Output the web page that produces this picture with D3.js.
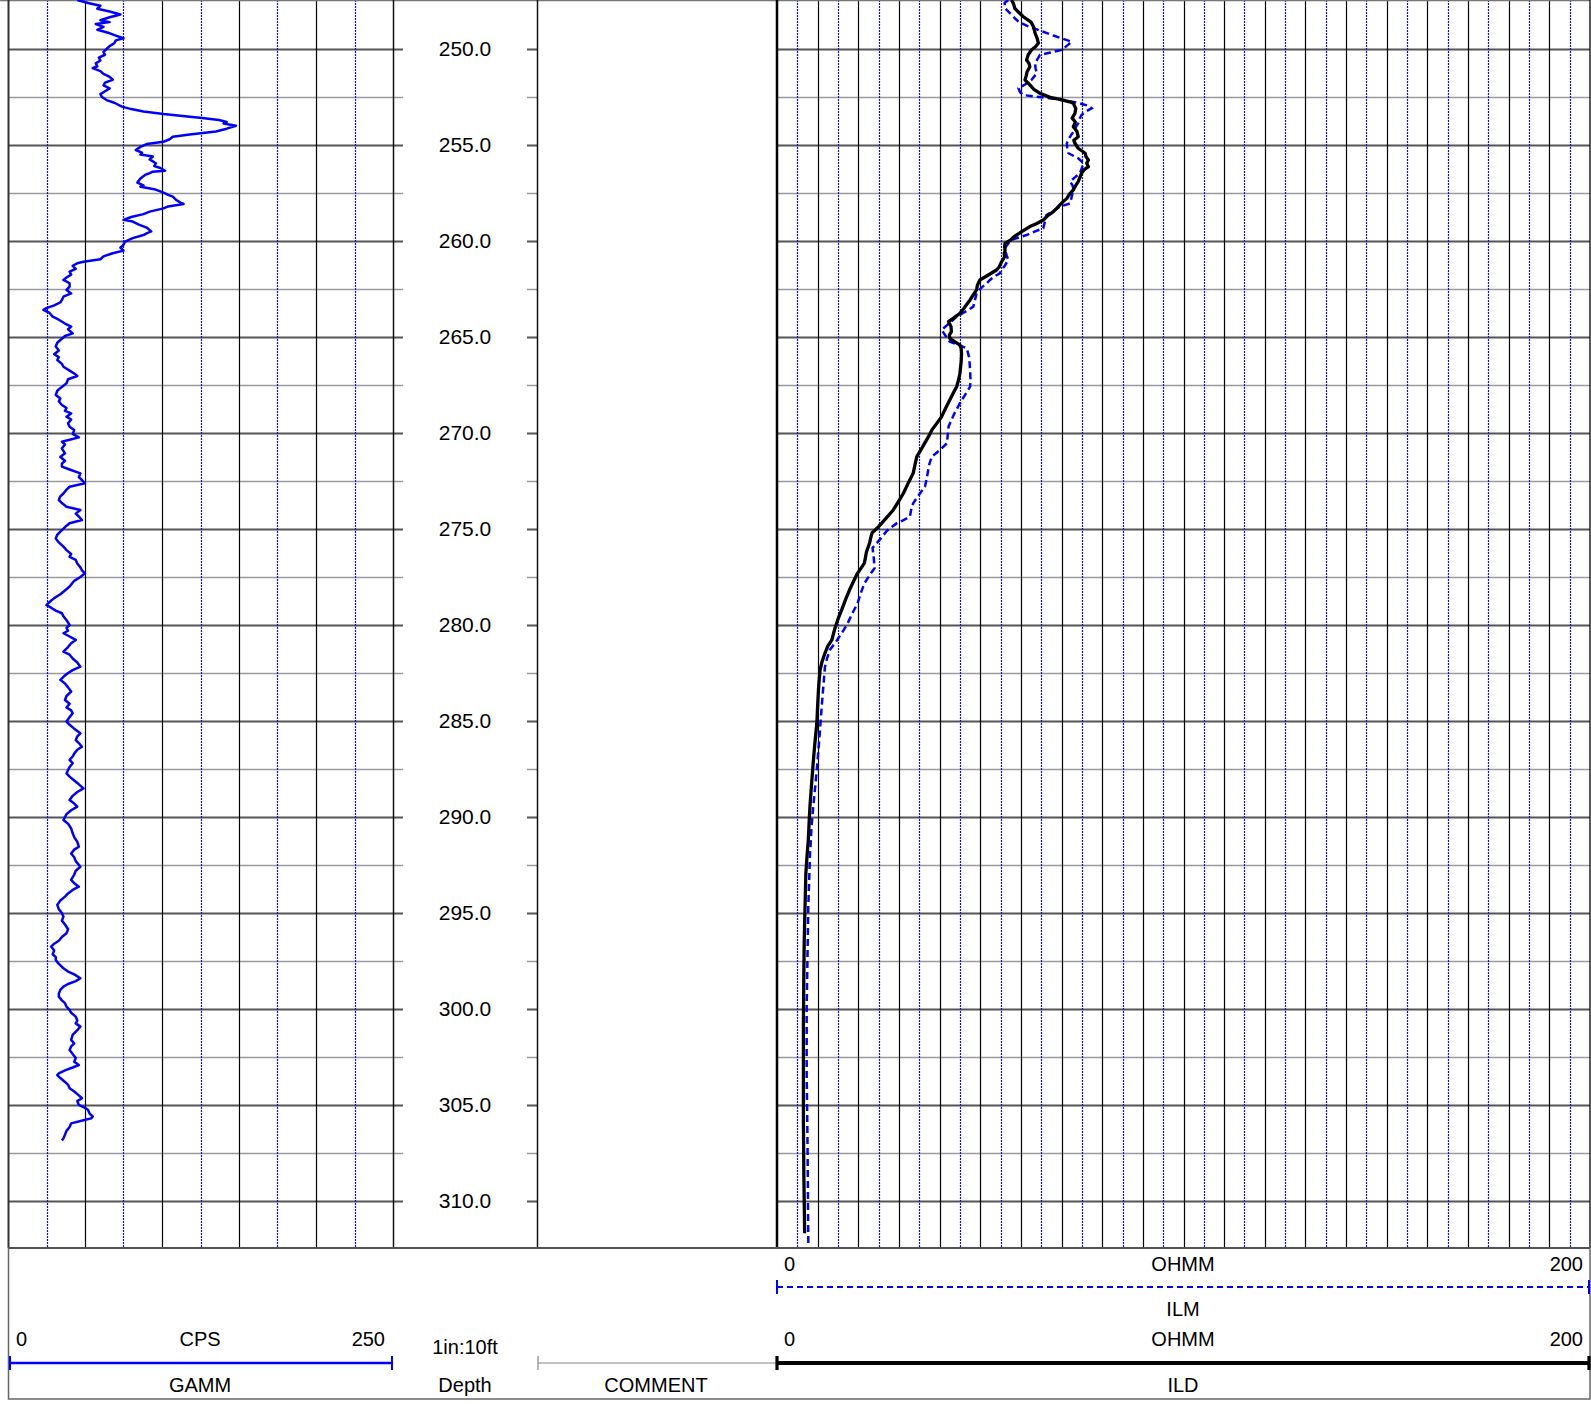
<!DOCTYPE html>
<meta charset="utf-8">
<script src="https://d3js.org/d3.v7.min.js"></script>
<style type="text/css">
body { margin: 0; background: #fff; }
svg { display: block; font-family: "Liberation Sans", Arial, sans-serif; }
.lbl { font-size: 20px; fill: #000; }
.depthlbl { font-size: 21px; fill: #000; }
.gam { fill: none; stroke: #0000ff; stroke-width: 2.5; stroke-linejoin: round; }
.ilm { fill: none; stroke: #0000ff; stroke-width: 2.5; stroke-dasharray: 7,4; }
.ild { fill: none; stroke: #000; stroke-width: 3.3; stroke-linejoin: round; }
</style>
<body>
</body>
<script>
// depth window shown on the log (ft)
var depthTop = 247.448, depthBottom = 312.45;
var depthLabels = [250, 255, 260, 265, 270, 275, 280, 285, 290, 295, 300, 305, 310];
var gamRange = [0, 250];
var resRange = [0, 200];

// GAMM, CPS  [depth, value]
var gammData = [
[247.45,45],[247.6,52],[247.75,60],[247.9,58],[248.05,66],[248.2,73],[248.35,66],[248.5,60],[248.6,66],[248.7,57],
[248.85,62],[249.0,58],[249.15,65],[249.3,70],[249.44,75],[249.55,70],[249.7,69],[249.85,66],[250.0,64],[250.15,62],
[250.3,63],[250.45,59],[250.6,60],[250.75,57],[250.9,58],[251.0,55],[251.15,60],[251.3,62],[251.45,66],[251.6,68],
[251.75,63],[251.9,62],[252.05,66],[252.2,63],[252.35,60],[252.5,61],[252.66,64],[252.8,69],[253.0,74],[253.13,80],
[253.26,88],[253.39,101],[253.5,115],[253.6,126],[253.7,137],[253.8,142],[253.88,140],[254.0,148],[254.15,142],[254.3,135],
[254.45,118],[254.57,107],[254.7,105],[254.83,101],[254.95,90],[255.1,86],[255.26,83],[255.4,87],[255.5,86],[255.6,94],
[255.75,92],[255.95,96],[256.1,95],[256.2,99],[256.34,102],[256.39,94],[256.5,91],[256.56,89],[256.75,86],[256.96,84],
[257.1,88],[257.17,86],[257.3,95],[257.48,101],[257.6,104],[257.69,107],[257.85,109],[258.0,112],[258.07,114],[258.2,104],
[258.3,101],[258.47,92],[258.6,88],[258.75,80],[258.9,75],[258.99,81],[259.15,85],[259.3,90],[259.5,93],[259.6,90],
[259.69,88],[259.85,81],[260.03,76],[260.2,75],[260.35,73],[260.5,75],[260.64,68],[260.8,62],[260.95,60],[261.08,49],
[261.16,45],[261.3,42],[261.45,44],[261.6,40],[261.75,41],[261.9,38],[262.03,36],[262.2,40],[262.38,40],[262.55,38],
[262.73,41],[262.9,36],[263.07,35],[263.2,34],[263.35,30],[263.5,25],[263.59,23],[263.75,27],[263.94,29],[264.1,33],
[264.3,37],[264.46,41],[264.6,39],[264.81,42],[264.95,37],[265.16,34],[265.3,32],[265.5,31],[265.7,33],[265.9,30],
[266.05,33],[266.2,32],[266.4,35],[266.55,36],[266.75,40],[266.9,43],[267.03,45],[267.2,39],[267.41,38],[267.6,35],
[267.8,32],[268.02,31],[268.2,34],[268.35,33],[268.54,35],[268.7,38],[268.85,37],[268.98,41],[269.15,38],[269.3,41],
[269.5,39],[269.67,40],[269.85,43],[270.05,42],[270.23,46],[270.35,40],[270.45,35],[270.6,37],[270.8,35],[271.06,37],
[271.25,34],[271.45,37],[271.6,35],[271.75,35],[271.9,40],[272.1,47],[272.3,46],[272.45,48],[272.62,50],[272.8,40],
[272.95,38],[273.15,36],[273.3,34],[273.49,33],[273.65,35],[273.84,38],[274.01,47],[274.2,44],[274.35,46],[274.53,48],
[274.7,40],[274.9,37],[275.14,34],[275.3,32],[275.49,31],[275.7,33],[275.92,36],[276.1,38],[276.3,41],[276.45,40],
[276.61,44],[276.8,45],[277.0,47],[277.15,48],[277.31,50],[277.5,47],[277.7,43],[278.0,40],[278.2,37],[278.4,34],
[278.6,30],[278.8,27],[278.96,25],[279.1,28],[279.25,31],[279.39,35],[279.55,36],[279.75,38],[280.0,40],[280.15,38],
[280.3,39],[280.43,36],[280.6,40],[280.78,44],[280.95,41],[281.15,39],[281.39,36],[281.55,40],[281.75,42],[281.95,45],
[282.17,47],[282.35,42],[282.5,39],[282.7,36],[282.86,34],[283.05,37],[283.25,39],[283.47,41],[283.7,38],[283.91,37],
[284.1,40],[284.3,38],[284.45,41],[284.6,42],[284.8,40],[285.03,38],[285.2,40],[285.4,43],[285.64,47],[285.8,45],
[286.0,44],[286.15,46],[286.34,48],[286.5,45],[286.7,43],[286.85,42],[287.03,40],[287.2,42],[287.4,40],[287.55,39],
[287.73,38],[287.9,40],[288.1,43],[288.3,46],[288.51,49],[288.7,45],[288.9,42],[289.12,40],[289.3,43],[289.46,45],
[289.65,41],[289.85,38],[290.0,37],[290.16,36],[290.35,39],[290.6,41],[290.85,42],[291.05,43],[291.3,45],[291.55,46],
[291.7,43],[291.9,41],[292.1,43],[292.3,44],[292.59,47],[292.8,44],[293.0,43],[293.28,41],[293.45,43],[293.63,46],
[293.8,42],[293.98,39],[294.15,37],[294.35,34],[294.58,32],[294.8,33],[295.0,35],[295.19,36],[295.4,35],[295.6,37],
[295.85,39],[296.06,38],[296.25,35],[296.45,33],[296.6,30],[296.75,28],[296.95,30],[297.15,29],[297.3,31],[297.45,31],
[297.65,33],[297.88,36],[298.05,39],[298.2,43],[298.4,47],[298.55,44],[298.7,39],[298.84,36],[299.0,34],[299.2,33],
[299.36,33],[299.55,35],[299.7,37],[299.88,38],[300.05,40],[300.2,41],[300.4,44],[300.6,45],[300.75,44],[300.92,47],
[301.1,45],[301.35,42],[301.61,41],[301.8,43],[301.95,41],[302.14,40],[302.35,42],[302.55,44],[302.75,43],[302.92,46],
[303.05,42],[303.2,37],[303.35,33],[303.44,32],[303.6,34],[303.8,37],[303.95,39],[304.13,40],[304.3,43],[304.5,46],
[304.65,48],[304.8,45],[305.0,46],[305.15,50],[305.26,52],[305.45,53],[305.6,55],[305.7,54],[305.8,49],[305.96,41],
[306.15,40],[306.35,38],[306.55,37],[306.74,36],[306.85,35]
];

// ILD, OHMM  [depth, value]
var ildData = [
[247.45,57.7],[247.65,58.2],[247.88,58.5],[248.1,59.5],[248.32,60.6],[248.6,62.5],[248.84,63.1],[249.0,63.3],[249.18,63.5],[249.45,64.0],
[249.7,64.3],[249.9,63.5],[250.05,62.6],[250.3,61.8],[250.57,61.4],[250.75,62.0],[250.92,62.2],[251.2,61.5],[251.4,61.3],[251.61,61.0],
[251.87,62.2],[252.1,63.2],[252.31,64.7],[252.52,67.2],[252.62,69.6],[252.75,72.0],[252.83,72.9],[253.1,73.5],[253.35,73.3],[253.6,72.6],
[253.8,73.4],[254.05,72.9],[254.3,73.8],[254.57,74.1],[254.75,73.0],[254.91,73.3],[255.17,74.1],[255.43,75.8],[255.6,76.0],[255.78,76.6],
[255.95,76.2],[256.13,76.6],[256.3,75.5],[256.48,74.9],[256.7,74.5],[256.91,74.1],[257.1,73.5],[257.34,72.9],[257.55,72.0],[257.78,71.3],
[257.95,70.4],[258.12,69.6],[258.3,68.8],[258.47,68.0],[258.7,66.5],[258.91,65.5],[259.1,63.8],[259.25,62.2],[259.51,60.2],[259.81,58.1],
[259.95,57.5],[260.12,56.1],[260.3,56.0],[260.5,56.1],[260.64,55.9],[260.82,56.0],[261.1,55.2],[261.34,54.7],[261.51,54.0],[261.77,52.0],
[262.03,49.9],[262.3,49.3],[262.55,49.1],[262.8,48.3],[263.07,47.5],[263.3,46.7],[263.5,46.0],[263.77,45.0],[264.0,43.5],[264.2,42.2],
[264.45,42.8],[264.72,42.9],[264.9,42.4],[265.07,42.5],[265.25,43.8],[265.42,45.0],[265.6,45.3],[265.85,45.4],[266.3,45.3],[266.89,45.0],
[267.2,44.7],[267.59,44.2],[267.9,43.4],[268.28,42.5],[268.7,41.5],[269.15,40.5],[269.5,39.3],[269.84,38.1],[270.1,37.5],[270.36,36.8],
[270.8,35.6],[271.23,34.4],[271.6,34.0],[272.1,33.5],[272.6,32.3],[273.14,31.1],[273.6,29.8],[274.01,28.6],[274.45,26.8],[274.88,25.0],
[275.2,23.4],[275.5,23.0],[275.72,22.8],[276.2,22.0],[276.78,21.5],[277.31,19.8],[277.7,18.9],[278.1,18.0],[278.6,17.0],[279.16,16.0],
[279.7,15.0],[280.21,14.2],[280.78,13.5],[281.1,12.5],[281.47,11.8],[281.9,11.1],[282.34,10.6],[282.8,10.4],[283.38,10.2],[284.2,10.0],
[285.12,9.8],[286.2,9.3],[287.2,8.9],[288.3,8.5],[289.46,8.1],[290.3,7.9],[291.2,7.7],[292.0,7.4],[292.93,7.1],[293.8,7.0],
[294.67,6.9],[295.5,6.8],[296.41,6.7],[297.3,6.65],[298.14,6.6],[299.4,6.55],[300.74,6.5],[302.0,6.5],[303.35,6.5],[304.6,6.5],
[305.95,6.5],[307.2,6.55],[308.56,6.6],[310.1,6.7],[311.68,6.8]
];

// ILM, OHMM  [depth, value]
var ilmData = [
[247.45,56.9],[247.6,56.0],[247.88,56.1],[248.2,57.6],[248.58,59.4],[248.8,61.5],[248.98,63.9],[249.3,68.0],[249.62,72.5],[249.85,71.2],
[250.05,70.0],[250.2,67.0],[250.31,64.7],[250.55,64.0],[250.75,63.5],[251.0,63.6],[251.27,63.9],[251.45,63.2],[251.61,62.6],[251.85,61.0],
[252.05,59.4],[252.25,59.8],[252.4,60.6],[252.59,68.0],[252.7,71.5],[252.83,74.5],[252.95,76.5],[253.09,77.4],[253.25,76.0],[253.44,74.9],
[253.65,74.4],[253.87,74.1],[254.1,73.4],[254.31,72.9],[254.6,72.0],[254.91,71.3],[255.2,71.4],[255.43,71.7],[255.69,74.1],[255.95,75.4],
[256.2,75.0],[256.48,74.5],[256.7,73.2],[256.91,72.1],[257.1,72.7],[257.26,72.9],[257.6,72.6],[258.04,72.1],[258.21,69.6],[258.45,67.8],
[258.65,66.3],[259.0,65.9],[259.34,65.5],[259.5,63.5],[259.69,61.4],[259.91,58.1],[260.1,57.0],[260.3,56.3],[260.47,56.1],[260.75,56.5],
[260.99,56.9],[261.3,56.0],[261.51,55.2],[261.68,54.8],[261.86,53.4],[262.03,52.4],[262.2,51.6],[262.45,50.2],[262.73,49.1],[262.9,48.9],
[263.15,48.6],[263.42,48.3],[263.7,46.2],[263.94,44.2],[264.3,42.3],[264.63,40.5],[264.95,41.5],[265.24,42.5],[265.4,44.5],[265.59,46.7],
[266.1,47.3],[266.72,47.5],[267.2,47.6],[267.59,47.5],[268.0,46.3],[268.45,45.0],[269.0,43.6],[269.67,42.2],[270.1,42.0],[270.54,41.8],
[270.9,40.0],[271.23,38.1],[271.6,37.5],[271.93,37.2],[272.4,36.8],[272.8,36.4],[273.2,35.0],[273.66,33.5],[274.0,33.0],[274.36,32.7],
[274.55,31.0],[274.71,29.4],[275.1,27.0],[275.5,25.5],[275.99,23.5],[276.5,23.8],[277.04,24.0],[277.4,22.8],[277.83,21.5],[278.35,20.6],
[278.89,19.8],[279.4,18.5],[279.95,17.3],[280.4,16.0],[280.78,14.8],[281.3,13.0],[281.75,12.3],[282.17,11.8],[283.2,11.4],[284.25,11.0],
[285.4,10.6],[286.51,10.2],[287.5,9.8],[288.42,9.4],[289.5,8.9],[290.5,8.5],[291.3,8.3],[292.06,8.1],[293.4,7.9],[294.67,7.7],
[296.0,7.6],[297.27,7.5],[298.6,7.4],[299.88,7.3],[301.6,7.3],[303.35,7.3],[305.1,7.4],[306.82,7.5],[308.1,7.55],[309.43,7.6],
[310.8,7.65],[312.03,7.7],[312.45,7.7]
];

var width = 1591, height = 1404;
var trackBottom = 1248, headBottom = 1399;
var gamLeft = 8, gamRight = 393, depRight = 537, resLeft = 777, resRight = 1590;

var svg = d3.select("body").append("svg")
    .attr("width", width)
    .attr("height", height);

var yScale = d3.scaleLinear().domain([depthTop, depthBottom]).range([0, trackBottom]);
var xGam = d3.scaleLinear().domain(gamRange).range([gamLeft, gamRight]);
var xRes = d3.scaleLinear().domain(resRange).range([resLeft, resRight]);

// horizontal depth lines every 2.5 ft
var hLines = d3.range(250, 312.5, 2.5);
function isMajor(d) { return Math.abs(d % 5) < 0.01; }

var grid = svg.append("g");
[[gamLeft, gamRight], [resLeft, resRight]].forEach(function(r) {
  grid.selectAll(null).data(hLines).enter().append("line")
      .attr("x1", r[0]).attr("x2", r[1])
      .attr("y1", function(d) { return Math.round(yScale(d)) + 0.5; })
      .attr("y2", function(d) { return Math.round(yScale(d)) + 0.5; })
      .attr("stroke", function(d) { return isMajor(d) ? "#555" : "#9a9a9a"; })
      .attr("stroke-width", function(d) { return isMajor(d) ? 2 : 1.5; });
});
// depth track ticks
[[gamRight, gamRight + 10], [depRight - 10, depRight]].forEach(function(r) {
  grid.selectAll(null).data(hLines).enter().append("line")
      .attr("x1", r[0]).attr("x2", r[1])
      .attr("y1", function(d) { return Math.round(yScale(d)) + 0.5; })
      .attr("y2", function(d) { return Math.round(yScale(d)) + 0.5; })
      .attr("stroke", function(d) { return isMajor(d) ? "#555" : "#9a9a9a"; })
      .attr("stroke-width", function(d) { return isMajor(d) ? 2 : 1.5; });
});

// vertical grid lines: GAMM every 25 CPS, resistivity every 5 OHMM
var gamV = d3.range(25, 250, 25);
grid.selectAll(null).data(gamV).enter().append("line")
    .attr("x1", function(d) { return Math.round(xGam(d)) + 0.5; })
    .attr("x2", function(d) { return Math.round(xGam(d)) + 0.5; })
    .attr("y1", 0).attr("y2", trackBottom)
    .attr("stroke", function(d) { return d % 50 == 0 ? "#000" : "#1010c8"; })
    .attr("stroke-dasharray", function(d) { return d % 50 == 0 ? null : "2,1"; })
    .attr("stroke-width", 1.2);
var resV = d3.range(5, 200, 5);
grid.selectAll(null).data(resV).enter().append("line")
    .attr("x1", function(d) { return Math.round(xRes(d)) + 0.5; })
    .attr("x2", function(d) { return Math.round(xRes(d)) + 0.5; })
    .attr("y1", 0).attr("y2", trackBottom)
    .attr("stroke", function(d) { return d % 10 == 0 ? "#000" : "#1010c8"; })
    .attr("stroke-dasharray", function(d) { return d % 10 == 0 ? null : "2,1"; })
    .attr("stroke-width", 1.2);

// track borders
grid.append("line").attr("x1", 0).attr("x2", resRight).attr("y1", 0.5).attr("y2", 0.5)
    .attr("stroke", "#777").attr("stroke-width", 1.5);
[[gamLeft + 0.5, "#333", 2], [gamRight + 0.5, "#111", 1.5], [depRight + 0.5, "#111", 1.5],
 [resLeft, "#000", 2.5], [resRight, "#222", 1.5]].forEach(function(b) {
  grid.append("line").attr("x1", b[0]).attr("x2", b[0]).attr("y1", 0).attr("y2", trackBottom)
      .attr("stroke", b[1]).attr("stroke-width", b[2]);
});

// depth labels
svg.selectAll(".depthlbl").data(depthLabels).enter().append("text")
    .attr("class", "depthlbl")
    .attr("x", 465)
    .attr("y", function(d) { return yScale(d); })
    .attr("text-anchor", "middle")
    .attr("dominant-baseline", "central")
    .text(function(d) { return d3.format(".1f")(d); });

// curves
var gamLine = d3.line().x(function(d) { return xGam(d[1]); }).y(function(d) { return yScale(d[0]); });
var resLine = d3.line().x(function(d) { return xRes(d[1]); }).y(function(d) { return yScale(d[0]); });

svg.append("path").datum(gammData).attr("class", "gam").attr("d", gamLine);
svg.append("path").datum(ilmData).attr("class", "ilm").attr("d", resLine);
svg.append("path").datum(ildData).attr("class", "ild").attr("d", resLine);

// header
var head = svg.append("g");
head.append("line").attr("x1", gamLeft).attr("x2", resRight).attr("y1", trackBottom).attr("y2", trackBottom)
    .attr("stroke", "#222").attr("stroke-width", 2);
head.append("rect").attr("x", gamLeft + 0.5).attr("y", trackBottom)
    .attr("width", resRight - gamLeft - 0.5).attr("height", headBottom - trackBottom)
    .attr("fill", "none").attr("stroke", "#666").attr("stroke-width", 1.5);

function label(txt, x, y, anchor) {
  head.append("text").attr("class", "lbl")
      .attr("x", x).attr("y", y)
      .attr("text-anchor", anchor || "middle")
      .attr("dominant-baseline", "central")
      .text(txt);
}
function scaleBar(x1, x2, y, color, w, dash) {
  head.append("line").attr("x1", x1).attr("x2", x2).attr("y1", y).attr("y2", y)
      .attr("stroke", color).attr("stroke-width", w).attr("stroke-dasharray", dash || null);
  [x1, x2].forEach(function(x) {
    head.append("line").attr("x1", x).attr("x2", x).attr("y1", y - 7).attr("y2", y + 7)
        .attr("stroke", color).attr("stroke-width", Math.max(2, w * 0.8));
  });
}

// GAMM
label(gamRange[0], 16, 1339, "start");
label("CPS", 200, 1339);
label(gamRange[1], 385, 1339, "end");
scaleBar(gamLeft + 2, gamRight - 1, 1363, "#0000ff", 2.5);
label("GAMM", 200, 1385);
// depth
label("1in:10ft", 465, 1347);
label("Depth", 465, 1385);
// comment
head.append("line").attr("x1", depRight + 1).attr("x2", resLeft).attr("y1", 1363).attr("y2", 1363)
    .attr("stroke", "#888").attr("stroke-width", 1.2);
head.append("line").attr("x1", depRight + 1).attr("x2", depRight + 1).attr("y1", 1356).attr("y2", 1370)
    .attr("stroke", "#888").attr("stroke-width", 1.2);
label("COMMENT", 656, 1385);
// ILM
label(resRange[0], 784, 1264, "start");
label("OHMM", 1183, 1264);
label(resRange[1], 1583, 1264, "end");
scaleBar(resLeft, resRight - 1, 1287, "#0000ff", 2, "6,4");
label("ILM", 1183, 1309);
// ILD
label(resRange[0], 784, 1339, "start");
label("OHMM", 1183, 1339);
label(resRange[1], 1583, 1339, "end");
scaleBar(resLeft, resRight - 1, 1363, "#000", 4);
label("ILD", 1183, 1385);
</script>
